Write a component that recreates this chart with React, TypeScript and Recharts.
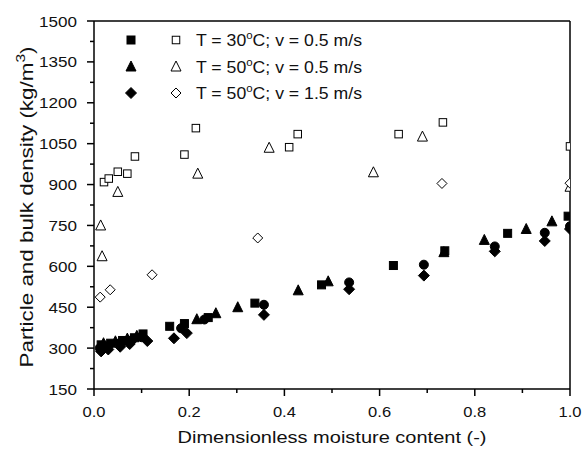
import { Customized, ReferenceLine, Scatter, ScatterChart, XAxis, YAxis } from 'recharts'

// bulk density (filled markers)
const bulk30v05X = [0.015, 0.035, 0.06, 0.085, 0.103, 0.159, 0.19, 0.24, 0.338, 0.478, 0.629, 0.737, 0.869, 0.996]
const bulk30v05Y = [312, 318, 328, 338, 352, 380, 390, 412, 465, 532, 603, 657, 721, 784]
const bulk50v05X = [0.02, 0.045, 0.07, 0.09, 0.216, 0.256, 0.302, 0.429, 0.492, 0.735, 0.82, 0.908, 0.962]
const bulk50v05Y = [318, 325, 335, 345, 406, 428, 450, 512, 545, 652, 697, 737, 765]
const bulkExtraX = [0.012, 0.03, 0.055, 0.08, 0.1, 0.183, 0.232, 0.357, 0.536, 0.693, 0.842, 0.947, 1.0]
const bulkExtraY = [300, 308, 318, 330, 340, 373, 405, 459, 541, 606, 673, 723, 747]
const bulk50v15X = [0.015, 0.03, 0.055, 0.075, 0.112, 0.168, 0.195, 0.357, 0.536, 0.693, 0.842, 0.947, 1.0]
const bulk50v15Y = [288, 295, 305, 315, 326, 336, 355, 422, 516, 566, 655, 693, 737]

// particle density (open markers)
const part30v05X = [0.021, 0.031, 0.05, 0.07, 0.086, 0.19, 0.214, 0.41, 0.428, 0.64, 0.733, 1.0]
const part30v05Y = [909, 922, 947, 940, 1003, 1010, 1107, 1037, 1085, 1085, 1128, 1040]
const part50v05X = [0.014, 0.017, 0.05, 0.218, 0.368, 0.587, 0.69, 1.0]
const part50v05Y = [750, 637, 873, 940, 1035, 945, 1076, 892]
const part50v15X = [0.013, 0.034, 0.122, 0.344, 0.731, 1.0]
const part50v15Y = [487, 514, 569, 704, 904, 905]

const xTicks = [0, 0.1, 0.2, 0.3, 0.4, 0.5, 0.6, 0.7, 0.8, 0.9, 1.0]
const yTicks = [150, 225, 300, 375, 450, 525, 600, 675, 750, 825, 900, 975, 1050, 1125, 1200, 1275, 1350, 1425, 1500]

const legendLabels = ['30', '50', '50']
const legendSpeeds = ['0.5', '0.5', '1.5']

const zip = (xs: number[], ys: number[]) => xs.map((x, i) => ({ x, y: ys[i] }))

const FONT = '"Liberation Sans", Arial, sans-serif'
const INK = '#111'

type Kind = 'square' | 'triangle' | 'diamond' | 'circle'

function Marker({ cx, cy, kind, filled }: { cx: number; cy: number; kind: Kind; filled: boolean }) {
  const fill = filled ? '#000' : '#fff'
  const stroke = '#000'
  const sw = 1
  if (kind === 'square') {
    const s = filled ? 8 : 7.5
    return <rect x={cx - s / 2} y={cy - s / 2} width={s} height={s} fill={fill} stroke={stroke} strokeWidth={sw} />
  }
  if (kind === 'triangle') {
    const w = 10
    const h = 9
    return (
      <path
        d={`M${cx},${cy - h / 2 - 1} L${cx + w / 2},${cy + h / 2} L${cx - w / 2},${cy + h / 2} Z`}
        fill={fill}
        stroke={stroke}
        strokeWidth={sw}
      />
    )
  }
  if (kind === 'diamond') {
    const r = filled ? 5.5 : 5
    return (
      <path
        d={`M${cx},${cy - r} L${cx + r},${cy} L${cx},${cy + r} L${cx - r},${cy} Z`}
        fill={fill}
        stroke={stroke}
        strokeWidth={sw}
      />
    )
  }
  return <circle cx={cx} cy={cy} r={4.5} fill={fill} stroke={stroke} strokeWidth={sw} />
}

const shapeOf = (kind: Kind, filled: boolean) => (p: any) => (
  <Marker cx={p.cx} cy={p.cy} kind={kind} filled={filled} />
)

const numLen = (s: string) => s.replace('.', '').length * 9.5 + (s.includes('.') ? 4 : 0)

const XTick = (props: any) => {
  const { x, y, payload } = props
  const v = payload.value as number
  const major = Math.round(v * 10) % 2 === 0
  const label = v.toFixed(1)
  return (
    <g>
      <line x1={x} y1={y} x2={x} y2={y + (major ? 7 : 4)} stroke="#000" strokeWidth={1.5} />
      {major && (
        <text x={x} y={y + 28} textAnchor="middle" fontSize={15.5} fontFamily={FONT} fill={INK} textLength={numLen(label)} lengthAdjust="spacingAndGlyphs">
          {label}
        </text>
      )}
    </g>
  )
}

const YTick = (props: any) => {
  const { x, y, payload } = props
  const v = payload.value as number
  const major = (v - 150) % 150 === 0
  const label = String(v)
  return (
    <g>
      <line x1={x} y1={y} x2={x - (major ? 7 : 4)} y2={y} stroke="#000" strokeWidth={1.5} />
      {major && (
        <text x={x - 17} y={y + 5.5} textAnchor="end" fontSize={15.5} fontFamily={FONT} fill={INK} textLength={numLen(label)} lengthAdjust="spacingAndGlyphs">
          {label}
        </text>
      )}
    </g>
  )
}

const legendKinds: Kind[] = ['square', 'triangle', 'diamond']

const Decorations = () => (
  <g fontFamily={FONT} fill={INK}>
    {legendKinds.map((k, i) => {
      const y = 40 + i * 26.5
      return (
        <g key={k}>
          <Marker cx={131} cy={y} kind={k} filled />
          <Marker cx={176} cy={y} kind={k} filled={false} />
          <text x={196} y={y + 6} fontSize={17} textLength={166} lengthAdjust="spacingAndGlyphs">
            T = {legendLabels[i]}
            <tspan dy={-7} fontSize={11}>o</tspan>
            <tspan dy={7}>C; v = {legendSpeeds[i]} m/s</tspan>
          </text>
        </g>
      )
    })}
    <text x={332} y={443} textAnchor="middle" fontSize={17} textLength={309} lengthAdjust="spacingAndGlyphs">
      Dimensionless moisture content (-)
    </text>
    <text transform="rotate(-90)" x={-207} y={33} textAnchor="middle" fontSize={18} textLength={321} lengthAdjust="spacingAndGlyphs">
      Particle and bulk density (kg/m
      <tspan dy={-8} fontSize={12.5}>3</tspan>
      <tspan dy={8}>)</tspan>
    </text>
  </g>
)

export default function App() {
  return (
    <div style={{ position: 'absolute', left: 0, top: 0, width: 586, height: 457, background: '#fff' }}>
      <ScatterChart width={586} height={457} margin={{ top: 21, right: 16, bottom: 8, left: 0 }}>
        <XAxis
          type="number"
          dataKey="x"
          domain={[0, 1]}
          ticks={xTicks}
          interval={0}
          height={60}
          tickSize={0}
          tickMargin={0}
          tick={<XTick />}
          axisLine={{ stroke: '#000', strokeWidth: 1.5 }}
          allowDataOverflow
        />
        <YAxis
          type="number"
          dataKey="y"
          domain={[150, 1500]}
          ticks={yTicks}
          interval={0}
          width={94}
          tickSize={0}
          tickMargin={0}
          tick={<YTick />}
          axisLine={{ stroke: '#000', strokeWidth: 1.5 }}
          allowDataOverflow
        />
        <ReferenceLine y={1500} stroke="#000" strokeWidth={1.5} />
        <ReferenceLine x={1} stroke="#000" strokeWidth={1.5} />
        <Scatter data={zip(part30v05X, part30v05Y)} shape={shapeOf('square', false)} isAnimationActive={false} />
        <Scatter data={zip(part50v05X, part50v05Y)} shape={shapeOf('triangle', false)} isAnimationActive={false} />
        <Scatter data={zip(part50v15X, part50v15Y)} shape={shapeOf('diamond', false)} isAnimationActive={false} />
        <Scatter data={zip(bulk30v05X, bulk30v05Y)} shape={shapeOf('square', true)} isAnimationActive={false} />
        <Scatter data={zip(bulk50v05X, bulk50v05Y)} shape={shapeOf('triangle', true)} isAnimationActive={false} />
        <Scatter data={zip(bulkExtraX, bulkExtraY)} shape={shapeOf('circle', true)} isAnimationActive={false} />
        <Scatter data={zip(bulk50v15X, bulk50v15Y)} shape={shapeOf('diamond', true)} isAnimationActive={false} />
        <Customized component={Decorations} />
      </ScatterChart>
    </div>
  )
}
